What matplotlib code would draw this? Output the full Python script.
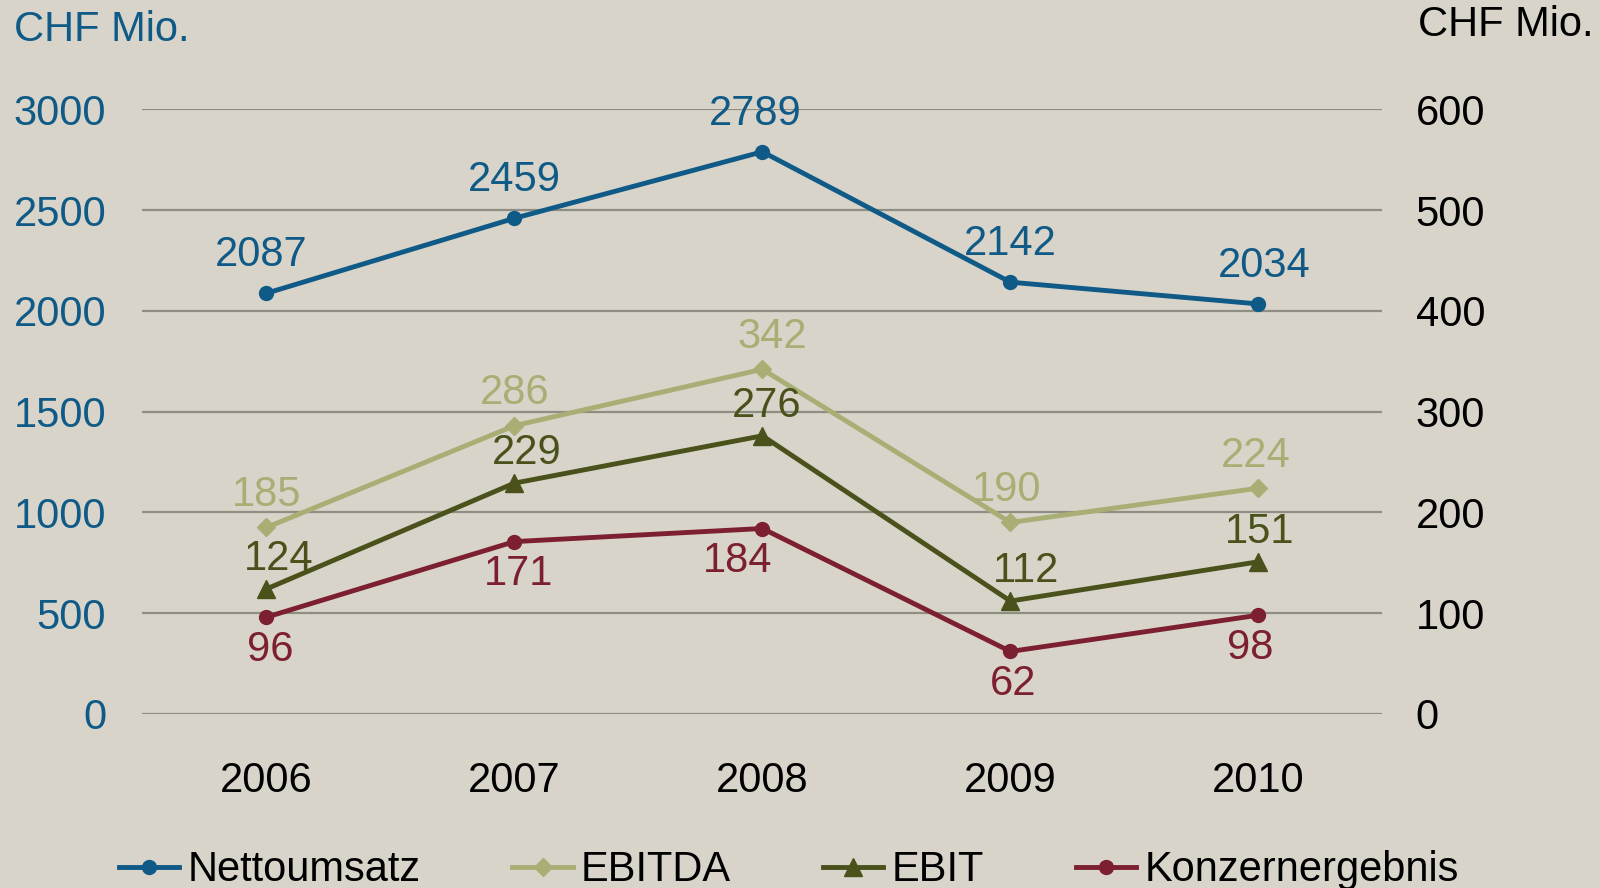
import numpy as np
import matplotlib.pyplot as plt
from matplotlib.lines import Line2D

years = ['2006', '2007', '2008', '2009', '2010']
netto = [2087, 2459, 2789, 2142, 2034]
ebitda = [185, 286, 342, 190, 224]
ebit = [124, 229, 276, 112, 151]
konzern = [96, 171, 184, 62, 98]

bg = '#d8d4ca'
c_netto = '#0f5a86'
c_ebitda = '#a9ae74'
c_ebit = '#4a511b'
c_konz = '#7c1f31'

plt.rcParams['font.family'] = ['Liberation Sans', 'DejaVu Sans']

fig = plt.figure(figsize=(16, 8.88), dpi=100, facecolor=bg)
ax = fig.add_axes([0.089, 0.196, 0.775, 0.681])
ax.set_facecolor(bg)
ax2 = ax.twinx()

x = np.arange(len(years))

ax.set_ylim(0, 3000)
ax2.set_ylim(0, 600)
ax.set_xlim(-0.5, 4.5)
ax.set_yticks(range(0, 3001, 500))
ax2.set_yticks(range(0, 601, 100))
for v in range(0, 3001, 500):
    ax.axhline(v, color='#8f8e82', lw=1.6, zorder=0)

lw = 3.5
ax.plot(x, netto, color=c_netto, lw=lw, marker='o', ms=10, zorder=3)
ax2.plot(x, ebitda, color=c_ebitda, lw=lw, marker='D', ms=9, zorder=3)
ax2.plot(x, ebit, color=c_ebit, lw=lw, marker='^', ms=13, zorder=3)
ax2.plot(x, konzern, color=c_konz, lw=lw, marker='o', ms=10, zorder=3)

fs = 30
# small horizontal nudges of the value labels (points)
dx_netto = [-4, 0, -5, 0, 4]
dx_ebitda = [0, 0, 7, -3, -2]
dx_ebit = [9, 9, 3, 11, 1]
dx_konz = [3, 3, -18, 2, -6]
for i, v in enumerate(netto):
    ax.annotate(str(v), (x[i], v), xytext=(dx_netto[i], 13), textcoords='offset points',
                ha='center', va='bottom', fontsize=fs, color=c_netto)
for i, v in enumerate(ebitda):
    ax2.annotate(str(v), (x[i], v), xytext=(dx_ebitda[i], 9), textcoords='offset points',
                 ha='center', va='bottom', fontsize=fs, color=c_ebitda)
for i, v in enumerate(ebit):
    ax2.annotate(str(v), (x[i], v), xytext=(dx_ebit[i], 7), textcoords='offset points',
                 ha='center', va='bottom', fontsize=fs, color=c_ebit)
for i, v in enumerate(konzern):
    ax2.annotate(str(v), (x[i], v), xytext=(dx_konz[i], -9), textcoords='offset points',
                 ha='center', va='top', fontsize=fs, color=c_konz)

ax.set_xticks(x)
ax.set_xticklabels(years)
ax.tick_params(axis='x', length=0, pad=34, labelsize=fs, labelcolor='black')
ax.tick_params(axis='y', length=0, pad=26, labelsize=fs, labelcolor=c_netto)
ax2.tick_params(axis='y', length=0, pad=24, labelsize=fs, labelcolor='black')
for a in (ax, ax2):
    for s in a.spines.values():
        s.set_visible(False)

fig.text(0.009, 0.966, 'CHF Mio.', fontsize=fs, color=c_netto, ha='left', va='center')
fig.text(0.996, 0.972, 'CHF Mio.', fontsize=fs, color='black', ha='right', va='center')

handles = [
    Line2D([], [], color=c_netto, lw=lw, marker='o', ms=10),
    Line2D([], [], color=c_ebitda, lw=lw, marker='D', ms=9),
    Line2D([], [], color=c_ebit, lw=lw, marker='^', ms=13),
    Line2D([], [], color=c_konz, lw=lw, marker='o', ms=10),
]
fig.legend(handles, ['Nettoumsatz', 'EBITDA', 'EBIT', 'Konzernergebnis'],
           loc='center', bbox_to_anchor=(0.493, 0.020), ncol=4, frameon=False,
           fontsize=fs, handlelength=1.45, handletextpad=0.2, columnspacing=2.2)

fig.savefig('out.png', dpi=100, facecolor=bg)
